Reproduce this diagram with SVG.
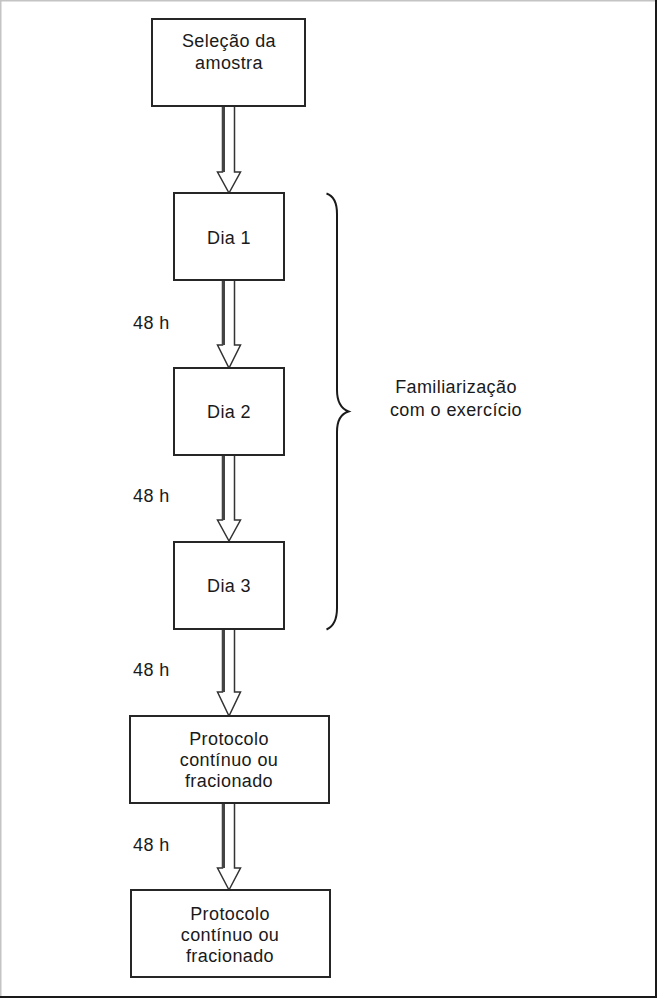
<svg xmlns="http://www.w3.org/2000/svg" width="657" height="998" viewBox="0 0 657 998">
<style>
.box{fill:#fff;stroke:#262626;stroke-width:2}
.t{font-family:"Liberation Sans",Arial,sans-serif;font-size:18px;letter-spacing:0.4px;fill:#1a1a1a;text-anchor:middle}
.lbl{font-family:"Liberation Sans",Arial,sans-serif;font-size:18px;letter-spacing:0.4px;fill:#1a1a1a}
.arr{fill:#fff;stroke:#333;stroke-width:1.5;stroke-linejoin:miter}
.sh{stroke:#444;stroke-width:3}
.brace{fill:none;stroke:#1a1a1a;stroke-width:2}
</style>
<rect x="0" y="0" width="657" height="998" fill="#fff"/>
<g id="frame">
<line x1="0" y1="0.5" x2="657" y2="0.5" stroke="#c4c4c4" stroke-width="2"/>
<line x1="0.5" y1="0" x2="0.5" y2="998" stroke="#c4c4c4" stroke-width="2"/>
<line x1="656" y1="0" x2="656" y2="998" stroke="#1a1a1a" stroke-width="2"/>
<line x1="0" y1="997" x2="657" y2="997" stroke="#1a1a1a" stroke-width="2"/>
</g>
<g id="connectors">
<g id="a1"><path class="arr" d="M222.5,107 L222.5,172 L217.5,172 L229,193 L240.5,172 L234.5,172 L234.5,107"/><line class="sh" x1="223.5" y1="107" x2="223.5" y2="172"/></g>
<g id="a2"><path class="arr" d="M222.5,280 L222.5,345 L217.5,345 L229,368 L240.5,345 L234.5,345 L234.5,280"/><line class="sh" x1="223.5" y1="280" x2="223.5" y2="345"/></g>
<g id="a3"><path class="arr" d="M222.5,455 L222.5,520 L217.5,520 L229,541 L240.5,520 L234.5,520 L234.5,455"/><line class="sh" x1="223.5" y1="455" x2="223.5" y2="520"/></g>
<g id="a4"><path class="arr" d="M222.5,629 L222.5,692 L217.5,692 L229,716 L240.5,692 L234.5,692 L234.5,629"/><line class="sh" x1="223.5" y1="629" x2="223.5" y2="692"/></g>
<g id="a5"><path class="arr" d="M222.5,803 L222.5,868 L217.5,868 L229,890 L240.5,868 L234.5,868 L234.5,803"/><line class="sh" x1="223.5" y1="803" x2="223.5" y2="868"/></g>
<text class="lbl" x="133" y="329">48 h</text>
<text class="lbl" x="133" y="502">48 h</text>
<text class="lbl" x="133" y="676">48 h</text>
<text class="lbl" x="133" y="851">48 h</text>
</g>
<g id="n1"><rect class="box" x="152" y="19" width="153" height="87"/><text class="t" x="229" y="47">Seleção da</text><text class="t" x="229" y="69">amostra</text></g>
<g id="n2"><rect class="box" x="174" y="193" width="110" height="87"/><text class="t" x="229" y="244">Dia 1</text></g>
<g id="n3"><rect class="box" x="174" y="368" width="110" height="87"/><text class="t" x="229" y="418">Dia 2</text></g>
<g id="n4"><rect class="box" x="174" y="542" width="110" height="87"/><text class="t" x="229" y="592">Dia 3</text></g>
<g id="n5"><rect class="box" x="130" y="716" width="199" height="87"/><text class="t" x="229" y="745">Protocolo</text><text class="t" x="229" y="766">contínuo ou</text><text class="t" x="229" y="787">fracionado</text></g>
<g id="n6"><rect class="box" x="131" y="890" width="199" height="87"/><text class="t" x="230" y="920">Protocolo</text><text class="t" x="230" y="941">contínuo ou</text><text class="t" x="230" y="962">fracionado</text></g>
<g id="brace-group">
<path class="brace" d="M326.5,193.5 Q337,197 337,214 L337,390 Q337,407 348.5,411.5 Q337,415 337,432 L337,608 Q337,625 326.5,629.5"/>
<text class="t" x="456" y="393">Familiarização</text>
<text class="t" x="456" y="416">com o exercício</text>
</g>
</svg>
